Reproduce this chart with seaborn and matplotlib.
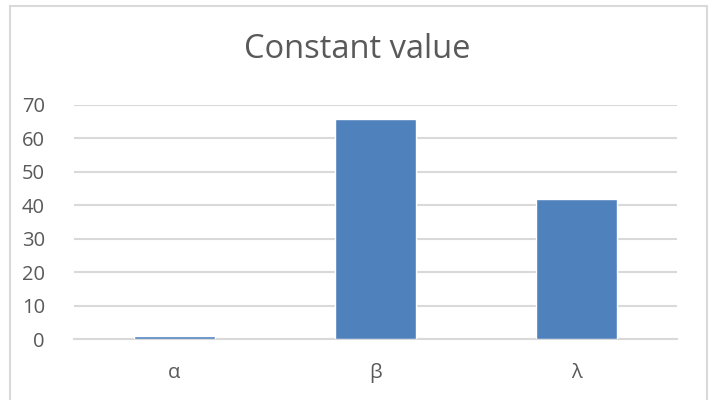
import matplotlib
matplotlib.use("Agg")
import matplotlib.pyplot as plt
import seaborn as sns
import pandas as pd
from matplotlib.patches import Rectangle

# Data
categories = ["α", "β", "λ"]
values = [1, 65.7, 42]
yticks = [0, 10, 20, 30, 40, 50, 60, 70]

df = pd.DataFrame({"cat": categories, "val": values})

sns.set_style("white")
plt.rcParams["font.family"] = ["Open Sans", "DejaVu Sans"]

text_col = "#595959"
grid_col = "#D9D9D9"

fig = plt.figure(figsize=(7.14, 4.0), dpi=100)
ax = fig.add_axes([74 / 714, (400 - 339.3) / 400, 603 / 714, (339.3 - 104.7) / 400])

sns.barplot(data=df, x="cat", y="val", color="#4F81BD", width=0.4,
            saturation=1, ax=ax, zorder=3)

ax.set_ylim(0, 70)
ax.set_xlim(-0.5, 2.5)
ax.set_yticks(yticks)
ax.set_yticklabels([str(t) for t in yticks])
ax.yaxis.grid(True, color=grid_col, linewidth=1.5, zorder=0)
ax.set_axisbelow(True)
for s in ["top", "right", "left"]:
    ax.spines[s].set_visible(False)
ax.spines["bottom"].set_color(grid_col)
ax.spines["bottom"].set_linewidth(1.5)
ax.tick_params(axis="y", length=0, labelsize=14.5, labelcolor=text_col, pad=21)
ax.tick_params(axis="x", length=0, labelsize=14.5, labelcolor=text_col, pad=17)
ax.set_xlabel("")
ax.set_ylabel("")

fig.text(0.5, 1 - 50 / 400, "Constant value", ha="center", va="center",
         fontsize=23.5, color=text_col)

# chart border
fig.patches.append(Rectangle((10 / 714, -0.1), 697 / 714, 1.1 - 6 / 400,
                             transform=fig.transFigure, fill=False,
                             edgecolor=grid_col, linewidth=1.5))

fig.savefig("out.png", dpi=100)
